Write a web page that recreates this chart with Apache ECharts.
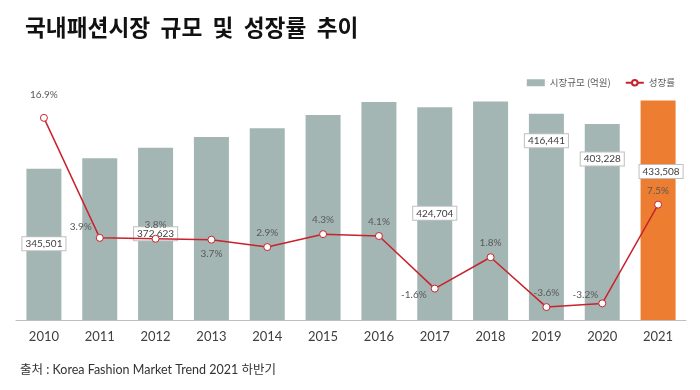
<!DOCTYPE html>
<html>
<head>
<meta charset="utf-8">
<script src="https://cdn.jsdelivr.net/npm/echarts@6/dist/echarts.min.js"></script>
<style>
html,body{margin:0;padding:0;background:#fff;}
#chart{width:700px;height:390px;}
</style>
</head>
<body>
<div id="chart"></div>
<script>
const years = ['2010','2011','2012','2013','2014','2015','2016','2017','2018','2019','2020','2021'];
const marketSize = [345501, 359000, 372623, 386400, 397600, 414700, 431700, 424704, 432300, 416441, 403228, 433508];
const growthRate = [16.9, 3.9, 3.8, 3.7, 2.9, 4.3, 4.1, -1.6, 1.8, -3.6, -3.2, 7.5];
const shownBarLabels = [true, false, true, false, false, false, false, true, false, true, true, true];
const barLabelDy = [75, 0, 86, 0, 0, 0, 0, 106, 0, 27, 35, 71];
const lineLabelPos = ['top','left','top','bottom','top','top','top','left','top','top','left','top'];

const FONT = 'Lato, "Noto Sans CJK KR", sans-serif';
const GRAY = '#A3B6B4';
const ORANGE = '#ED7D31';
const RED = '#C8232C';

const chart = echarts.init(document.getElementById('chart'), null, {renderer:'canvas'});

const barData = marketSize.map((v, i) => {
  const item = {value: v};
  if (i === years.length - 1) item.itemStyle = {color: ORANGE};
  if (shownBarLabels[i]) {
    item.label = {
      show: true,
      position: ['50%', barLabelDy[i]],
      align: 'center',
      verticalAlign: 'middle',
      offset: i === years.length - 1 ? [3, 0] : [0, 0]
    };
  } else {
    item.label = {show: false};
  }
  return item;
});

const lineData = growthRate.map((v, i) => {
  const item = {value: v, label: {position: lineLabelPos[i]}};
  if (i === 0) item.label.distance = 14;
  if (lineLabelPos[i] === 'left') { item.label.distance = 4; item.label.offset = [0, -11]; }
  if (i === 7) item.label.offset = [0, 6];
  if (i === 10) item.label.offset = [4, -9];
  return item;
});

chart.setOption({
  animation: false,
  backgroundColor: '#fff',
  title: [
    {
      text: '국내패션시장  규모  및  성장률  추이',
      left: 20, top: 11,
      textStyle: {fontFamily: '"Noto Sans CJK KR", sans-serif', fontSize: 22.7, fontWeight: 'bold', color: '#111'}
    },
    {
      text: '출처 : Korea Fashion Market Trend 2021 하반기',
      left: 15, top: 359,
      textStyle: {fontFamily: FONT, fontSize: 12.5, fontWeight: 'normal', color: '#333'}
    }
  ],
  legend: {
    right: 20, top: 73,
    itemWidth: 18, itemHeight: 7, itemGap: 14,
    textStyle: {fontFamily: '"Noto Sans CJK KR", sans-serif', fontSize: 9.5, color: '#595959'},
    data: [
      {name: '시장규모 (억원)', icon: 'rect'},
      {name: '성장률'}
    ]
  },
  grid: {left: 16, right: 14, top: 80, bottom: 70},
  xAxis: {
    type: 'category',
    data: years,
    axisLine: {onZero: false, lineStyle: {color: '#BFBFBF', width: 1}},
    axisTick: {show: false},
    axisLabel: {fontFamily: FONT, fontSize: 13, color: '#404040', margin: 10}
  },
  yAxis: [
    {type: 'value', min: 150000, max: 460000, show: false, splitLine: {show: false}},
    {type: 'value', min: -5, max: 21, show: false, splitLine: {show: false}}
  ],
  series: [
    {
      name: '시장규모 (억원)',
      type: 'bar',
      yAxisIndex: 0,
      barWidth: 35,
      itemStyle: {color: GRAY},
      label: {
        fontFamily: FONT, fontSize: 10, color: '#404040',
        backgroundColor: '#fff', borderColor: '#BFBFBF', borderWidth: 1,
        padding: [2, 3, 1, 3],
        formatter: p => p.value.toLocaleString('en-US')
      },
      data: barData,
      z: 2
    },
    {
      name: '성장률',
      type: 'line',
      yAxisIndex: 1,
      symbol: 'circle',
      symbolSize: 7,
      lineStyle: {color: RED, width: 1.5},
      itemStyle: {color: '#fff', borderColor: RED, borderWidth: 1},
      label: {
        show: true,
        fontFamily: FONT, fontSize: 10, color: '#595959',
        formatter: p => p.value.toFixed(1) + '%'
      },
      data: lineData,
      z: 3
    }
  ]
});
</script>
</body>
</html>
